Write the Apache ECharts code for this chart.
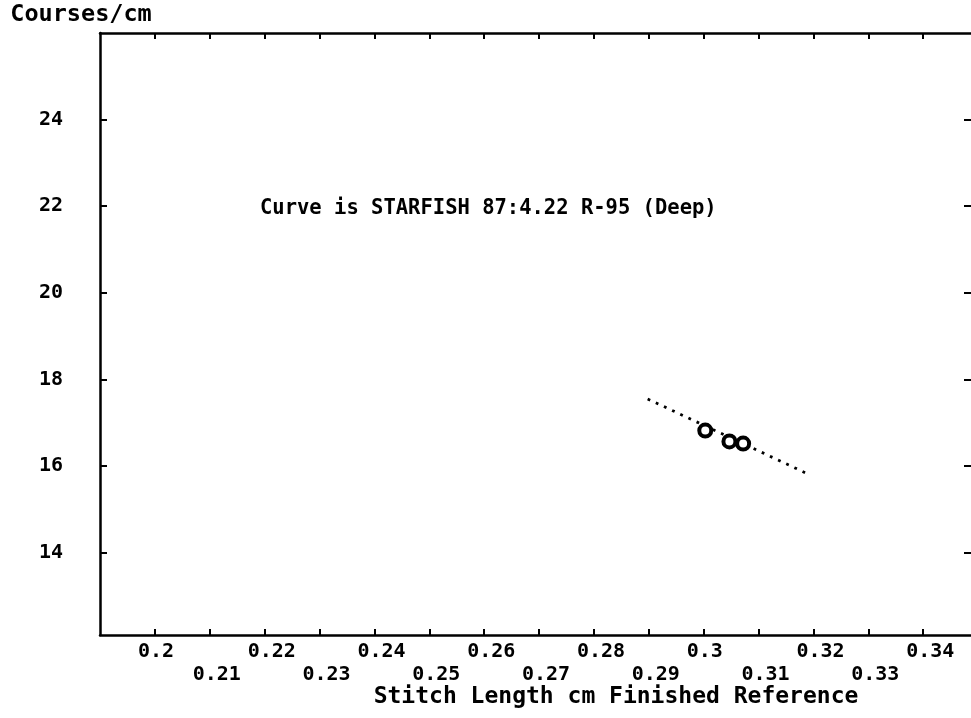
<!DOCTYPE html>
<html>
<head>
<meta charset="utf-8">
<script src="https://cdn.jsdelivr.net/npm/echarts@6/dist/echarts.min.js"></script>
<style>
html,body{margin:0;padding:0;background:#fff;}
#chart{width:971px;height:718px;}
</style>
</head>
<body>
<div id="chart"></div>
<script>
// ---- data ----
const xLabelsRow1 = [0.2, 0.22, 0.24, 0.26, 0.28, 0.3, 0.32, 0.34];
const xLabelsRow2 = [0.21, 0.23, 0.25, 0.27, 0.29, 0.31, 0.33];
const xTickValues = [0.2, 0.21, 0.22, 0.23, 0.24, 0.25, 0.26, 0.27, 0.28, 0.29, 0.3, 0.31, 0.32, 0.33, 0.34];
const yTickValues = [14, 16, 18, 20, 22, 24];
const pointX = [0.3003, 0.3047, 0.3072];
const pointY = [16.82, 16.57, 16.52];
const fitX = [0.2898, 0.3188];
const fitY = [17.55, 15.83];
const xTitle = 'Stitch Length cm Finished Reference';
const yTitle = 'Courses/cm';
const note = 'Curve is STARFISH 87:4.22 R-95 (Deep)';

const FONT = 'DejaVu Sans Mono';
const WEIGHT = 'bold';
const xMin = 0.19, xMax = 0.35, yMin = 12.1, yMax = 26;

const chart = echarts.init(document.getElementById('chart'), null, {renderer: 'canvas'});

const lineStyle = {color: '#000', width: 2.5};
const tickStyle = {color: '#000', width: 2};
const labelRich = {a: {width: 34, align: 'left', fontFamily: FONT, fontWeight: WEIGHT, fontSize: 20, color: '#000'}};

const option = {
  animation: false,
  backgroundColor: '#fff',
  title: {
    text: note,
    left: 255,
    top: 193,
    textStyle: {fontFamily: FONT, fontSize: 20.5, fontWeight: WEIGHT, color: '#000'}
  },
  grid: {left: 100, top: 33, width: 878, height: 602, containLabel: false, outerBoundsMode: 'none'},
  xAxis: [
    {
      type: 'value', min: xMin, max: xMax, position: 'bottom',
      axisLine: {show: true, onZero: false, lineStyle: lineStyle},
      axisTick: {show: true, inside: true, length: 6, customValues: xTickValues, lineStyle: tickStyle},
      axisLabel: {show: true, customValues: xLabelsRow1, margin: 7,
        formatter: v => '{a|' + v + '}', rich: labelRich},
      splitLine: {show: false},
      name: xTitle, nameLocation: 'middle', nameGap: 51,
      nameTextStyle: {fontFamily: FONT, fontWeight: WEIGHT, fontSize: 23, color: '#000', padding: [0, 0, 0, 154]}
    },
    {
      type: 'value', min: xMin, max: xMax, position: 'bottom',
      axisLine: {show: false}, axisTick: {show: false},
      axisLabel: {show: true, customValues: xLabelsRow2, margin: 30,
        formatter: v => '{a|' + v + '}', rich: labelRich},
      splitLine: {show: false}
    },
    {
      type: 'value', min: xMin, max: xMax, position: 'top',
      axisLine: {show: true, onZero: false, lineStyle: lineStyle},
      axisTick: {show: true, inside: true, length: 6, customValues: xTickValues, lineStyle: tickStyle},
      axisLabel: {show: false},
      splitLine: {show: false}
    }
  ],
  yAxis: [
    {
      type: 'value', min: yMin, max: yMax, position: 'left',
      axisLine: {show: true, onZero: false, lineStyle: lineStyle},
      axisTick: {show: true, inside: true, length: 7, customValues: yTickValues, lineStyle: tickStyle},
      axisLabel: {show: true, customValues: yTickValues, margin: 37,
        fontFamily: FONT, fontWeight: WEIGHT, fontSize: 20, color: '#000'},
      splitLine: {show: false},
      name: yTitle, nameLocation: 'end', nameGap: 6,
      nameTextStyle: {fontFamily: FONT, fontWeight: WEIGHT, fontSize: 23.5, color: '#000', padding: [0, 38, 0, 0]}
    },
    {
      type: 'value', min: yMin, max: yMax, position: 'right',
      axisLine: {show: true, onZero: false, lineStyle: lineStyle},
      axisTick: {show: true, inside: true, length: 14, customValues: yTickValues, lineStyle: tickStyle},
      axisLabel: {show: false},
      splitLine: {show: false}
    }
  ],
  series: [
    {
      type: 'line',
      xAxisIndex: 0, yAxisIndex: 0,
      data: fitX.map((x, i) => [x, fitY[i]]),
      showSymbol: false,
      silent: true,
      z: 1,
      lineStyle: {color: '#000', width: 2.8, type: [2.8, 6.2]}
    },
    {
      type: 'scatter',
      xAxisIndex: 0, yAxisIndex: 0,
      data: pointX.map((x, i) => [x, pointY[i]]),
      symbol: 'circle',
      symbolSize: 12,
      z: 3,
      itemStyle: {color: '#fff', borderColor: '#000', borderWidth: 4, opacity: 1}
    }
  ]
};
chart.setOption(option);
</script>
</body>
</html>
